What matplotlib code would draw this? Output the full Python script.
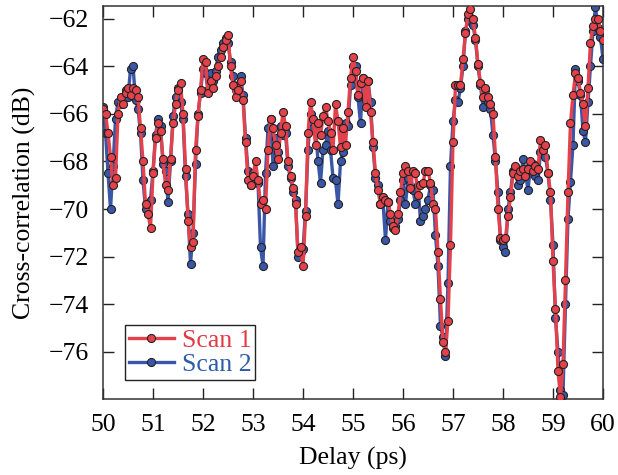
import numpy as np
import matplotlib
matplotlib.use("Agg")
import matplotlib.pyplot as plt

plt.rcParams['font.family'] = ['Liberation Serif', 'DejaVu Serif']
plt.rcParams['mathtext.fontset'] = 'stix'

delay_start, delay_end = 50.0, 60.0

scan1 = [
    -65.8, -66.0, -66.8, -67.8, -69.0, -68.7, -66.0, -65.3, -65.6, -65.1,
    -64.9, -65.2, -64.9, -65.0, -65.3, -66.6, -68.0, -69.8, -70.2, -70.8,
    -68.5, -67.0, -66.4, -66.7, -67.9, -69.0, -69.2, -67.9, -66.4, -65.6,
    -65.0, -64.7, -66.0, -68.3, -70.5, -71.6, -71.4, -67.5, -66.1, -65.0,
    -63.7, -63.8, -65.1, -64.6, -64.9, -64.4, -64.0, -63.6, -63.2, -62.9,
    -62.7, -64.0, -64.8, -65.3, -65.0, -64.6, -65.4, -67.2, -68.8, -69.0,
    -68.6, -68.0, -68.8, -69.8, -69.6, -70.0, -67.5, -66.2, -66.6, -67.3,
    -67.9, -66.8, -65.9, -66.5, -68.0, -68.6, -69.1, -69.8, -71.8, -71.6,
    -72.4, -70.3, -66.8, -65.5, -66.2, -67.3, -66.4, -66.9, -66.1, -65.7,
    -66.3, -66.8, -67.5, -65.6, -66.3, -67.4, -66.6, -67.3, -65.9, -64.5,
    -63.6, -64.2, -65.2, -64.7, -64.5, -65.7, -64.6, -65.9, -67.2, -68.5,
    -69.2, -69.8, -69.5, -69.6, -69.7, -70.2, -70.7, -70.9, -70.2, -69.3,
    -68.5, -68.2, -68.4, -69.1, -68.4, -68.5, -69.4, -69.0, -68.9, -68.4,
    -68.4, -68.9, -69.8, -70.0, -71.8, -73.8, -75.6, -76.0, -74.7, -71.5,
    -67.2, -64.8, -64.8, -64.8, -63.7, -62.6, -61.8, -61.6, -62.0, -62.8,
    -63.9, -64.7, -65.3, -64.9, -65.3, -65.6, -66.0, -67.8, -70.0, -71.2,
    -71.3, -71.2, -70.3, -69.5, -68.5, -68.2, -68.6, -68.4, -68.3, -68.6,
    -68.3, -68.0, -68.4, -68.2, -68.3, -67.1, -67.5, -67.3, -68.5, -69.3,
    -72.2, -74.2, -76.8, -77.9, -76.5, -73.0, -69.3, -66.4, -65.2, -64.3,
    -64.5, -65.1, -65.6, -66.5, -64.9, -63.0, -62.3, -62.0, -62.0, -62.5,
    -62.9,
]

scan2 = [
    -65.7, -66.8, -68.5, -70.0, -68.2, -66.2, -65.5, -65.6, -65.3, -65.0,
    -65.3, -64.1, -64.0, -65.4, -65.8, -66.8, -68.8, -70.0, -69.8, -69.6,
    -68.4, -66.9, -66.2, -66.5, -68.1, -68.4, -69.7, -68.0, -66.1, -65.3,
    -64.9, -65.5, -66.2, -68.6, -70.2, -72.3, -71.0, -68.1, -66.0, -65.1,
    -64.1, -64.3, -65.0, -64.3, -64.6, -64.2, -63.6, -63.3, -63.0, -62.8,
    -63.0, -63.8, -64.4, -65.0, -64.8, -64.4, -65.2, -67.0, -68.4, -69.0,
    -68.5, -68.8, -68.9, -71.6, -72.4, -68.5, -66.6, -66.2, -68.2, -67.0,
    -67.6, -66.5, -66.9, -66.8, -68.2, -68.7, -69.3, -69.6, -72.0, -71.8,
    -71.7, -70.1, -67.5, -66.0, -66.6, -66.5, -68.0, -68.9, -67.5, -67.3,
    -66.7, -67.5, -68.7, -68.8, -69.8, -68.0, -67.6, -66.4, -66.5, -64.8,
    -64.0, -64.0, -65.3, -66.4, -64.5, -65.4, -64.6, -65.5, -67.4, -68.7,
    -69.0, -69.8, -69.7, -71.3, -69.7, -70.5, -70.8, -70.7, -70.4, -69.6,
    -68.8, -69.8, -68.7, -68.5, -69.2, -69.8, -69.0, -70.5, -70.3, -70.0,
    -69.6, -69.0, -69.2, -71.1, -72.4, -74.9, -75.4, -76.2, -73.1, -68.2,
    -66.3, -65.4, -65.5, -64.9, -64.0, -62.5, -62.0, -62.1, -62.25, -62.9,
    -64.0, -64.8, -65.7, -65.0, -65.5, -65.8, -66.9, -68.0, -69.3, -71.3,
    -71.6, -71.8, -70.0, -69.3, -68.4, -68.3, -69.0, -68.8, -67.9, -68.5,
    -69.2, -68.2, -68.1, -68.6, -68.8, -67.6, -67.7, -67.8, -68.5, -69.6,
    -71.5, -74.6, -76.0, -77.6, -77.8, -74.0, -70.4, -68.85, -67.3, -64.1,
    -64.6, -65.2, -66.7, -67.2, -65.5, -64.0, -62.5, -61.5, -62.4, -62.75,
    -63.7,
]

labels = ['Scan 1', 'Scan 2']
x_ticks = [50, 51, 52, 53, 54, 55, 56, 57, 58, 59, 60]
y_ticks = [-62, -64, -66, -68, -70, -72, -74, -76]

delay = np.linspace(delay_start, delay_end, len(scan1))

red = '#E5414B'
blue = '#3A56A6'
red_txt = '#E23A44'
blue_txt = '#2B5BA9'

fig = plt.figure(figsize=(6.18, 4.75), dpi=100)
ax = fig.add_axes([0.1667, 0.1594, 0.8090, 0.8286])

common = dict(lw=2.4, marker='o', ms=5.8, mec='#222222', mew=0.8)
ax.plot(delay, scan2, color=blue, mfc=blue, label=labels[1], zorder=2, **common)
ax.plot(delay, scan1, color=red, mfc=red, label=labels[0], zorder=3, **common)

ax.set_xlim(50, 60)
ax.set_ylim(-78, -61.45)
ax.set_xticks(x_ticks)
ax.set_yticks(y_ticks)
ax.set_yticklabels(['\u2212%d' % abs(v) for v in y_ticks])

fs = 18.5
ax.tick_params(direction='in', length=8, width=1, top=True, right=True,
               labelsize=fs, color='#222222')
ax.tick_params(axis='x', pad=10.5)
ax.tick_params(axis='y', pad=10)
for s in ax.spines.values():
    s.set_linewidth(1.1)
    s.set_color('#333333')

ax.set_xlabel('Delay (ps)', fontsize=fs, labelpad=8)
ax.set_ylabel('Cross-correlation (dB)', fontsize=fs, labelpad=9.5)

h, l = ax.get_legend_handles_labels()
leg = ax.legend([h[1], h[0]], [l[1], l[0]], loc='lower left',
                bbox_to_anchor=(0.044, 0.049), borderaxespad=0,
                fontsize=fs, frameon=True, fancybox=False, framealpha=1,
                edgecolor='#222222', handlelength=1.75, handletextpad=0.3,
                borderpad=0.15, labelspacing=0.05, numpoints=1)
leg.get_frame().set_linewidth(1.0)
for t, c in zip(leg.get_texts(), [red_txt, blue_txt]):
    t.set_color(c)

fig.savefig('out.png', dpi=100)
